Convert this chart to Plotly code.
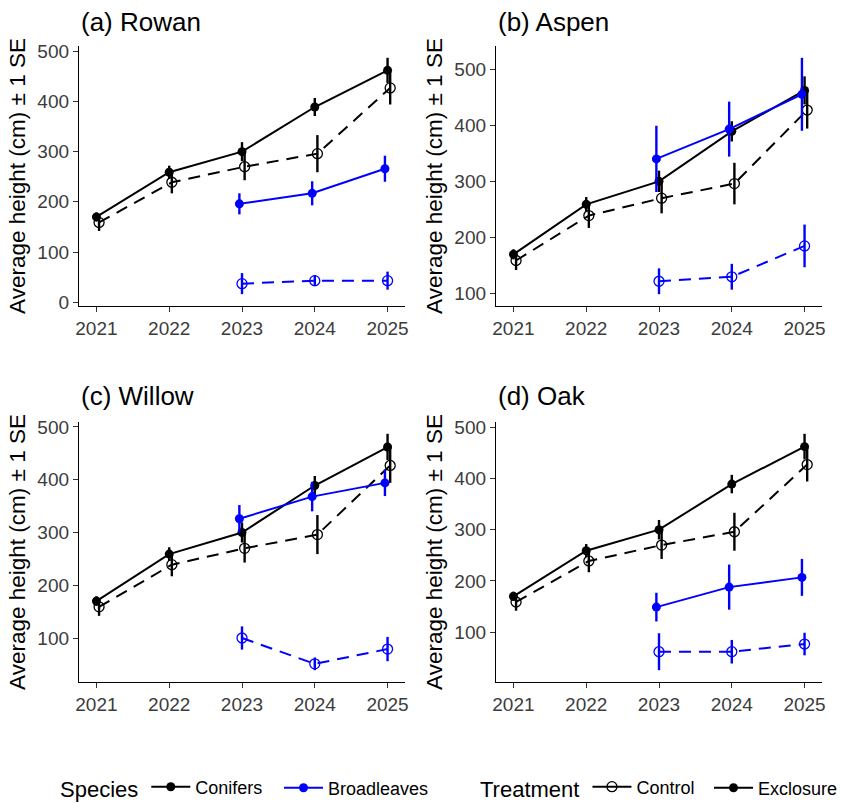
import plotly.graph_objects as go

# ---------------- data ----------------
years = [2021, 2022, 2023, 2024, 2025]
bl_years = [2023, 2024, 2025]

conifer_excl = [170, 259, 300, 389, 462]
conifer_excl_se = [9, 13, 19, 18, 25]
conifer_ctrl = [159, 239, 270, 296, 427]
conifer_ctrl_se = [17, 22, 27, 37, 33]

panel_titles = ["(a) Rowan", "(b) Aspen", "(c) Willow", "(d) Oak"]

rowan_excl = [196, 217, 266]
rowan_excl_se = [21, 24, 26]
rowan_ctrl = [37, 43, 43]
rowan_ctrl_se = [21, 11, 18]

aspen_excl = [340, 393, 455]
aspen_excl_se = [59, 49, 65]
aspen_ctrl = [122, 130, 185]
aspen_ctrl_se = [23, 23, 38]

willow_excl = [326, 368, 394]
willow_excl_se = [26, 28, 25]
willow_ctrl = [100, 51, 79]
willow_ctrl_se = [22, 12, 23]

oak_excl = [149, 188, 207]
oak_excl_se = [28, 44, 36]
oak_ctrl = [62, 62, 77]
oak_ctrl_se = [36, 23, 22]

broadleaf_data = [
    (rowan_excl, rowan_excl_se, rowan_ctrl, rowan_ctrl_se),
    (aspen_excl, aspen_excl_se, aspen_ctrl, aspen_ctrl_se),
    (willow_excl, willow_excl_se, willow_ctrl, willow_ctrl_se),
    (oak_excl, oak_excl_se, oak_ctrl, oak_ctrl_se),
]

# ---------------- style ----------------
FONT = "Liberation Sans, Arial, sans-serif"
BLACK = "#000000"
BLUE = "#0000FF"
DODGE = 0.036
W, H = 843, 803

xdomains = [[79 / W, 405 / W], [496 / W, 822 / W], [79 / W, 405 / W], [496 / W, 822 / W]]
ydomains = [[1 - 306 / H, 1 - 46 / H], [1 - 306 / H, 1 - 46 / H],
            [1 - 682 / H, 1 - 422 / H], [1 - 682 / H, 1 - 422 / H]]
title_y = [1 - 22 / H, 1 - 22 / H, 1 - 396 / H, 1 - 396 / H]

fig = go.Figure()


def marker_style(color, filled):
    if filled:
        return dict(size=9, color=color, symbol="circle", line=dict(width=0))
    return dict(size=10, color=color, symbol="circle-open", line=dict(color=color, width=1.3))


def add_series(i, xs, ys, se, color, filled, dash, off):
    ax = "" if i == 0 else str(i + 1)
    fig.add_trace(go.Scatter(
        x=[x + off for x in xs], y=ys,
        mode="lines+markers",
        line=dict(color=color, width=2, dash=dash),
        marker=marker_style(color, filled),
        error_y=dict(type="data", array=se, visible=True, color=color,
                     thickness=2.4, width=0),
        xaxis="x" + ax, yaxis="y" + ax, showlegend=False, hoverinfo="x+y",
    ))


x_lo = years[0] - DODGE - 0.05 * (years[-1] - years[0] + 2 * DODGE)
x_hi = years[-1] + DODGE + 0.05 * (years[-1] - years[0] + 2 * DODGE)

for i in range(4):
    be, bse, bc, bcse = broadleaf_data[i]
    add_series(i, years, conifer_ctrl, conifer_ctrl_se, BLACK, False, "12px,8px", DODGE)
    add_series(i, years, conifer_excl, conifer_excl_se, BLACK, True, "solid", 0.0)
    add_series(i, bl_years, bc, bcse, BLUE, False, "12px,8px", 0.0)
    add_series(i, bl_years, be, bse, BLUE, True, "solid", -DODGE)

    vals = conifer_ctrl + conifer_excl + bc + be
    ses = conifer_ctrl_se + conifer_excl_se + bcse + bse
    lo = min(v - s for v, s in zip(vals, ses))
    hi = max(v + s for v, s in zip(vals, ses))
    pad = 0.05 * (hi - lo)

    ax = "" if i == 0 else str(i + 1)
    fig.layout["xaxis" + ax] = dict(
        domain=xdomains[i], anchor="y" + ax, range=[x_lo, x_hi],
        tickvals=years, ticktext=[str(y) for y in years],
        showline=True, linecolor="black", linewidth=1.3,
        ticks="outside", ticklen=5, tickwidth=1.3, tickcolor="#333333",
        showgrid=False, zeroline=False,
        tickfont=dict(family=FONT, size=19, color="#3C3C3C"),
    )
    fig.layout["yaxis" + ax] = dict(
        domain=ydomains[i], anchor="x" + ax, range=[lo - pad, hi + pad],
        dtick=100, tick0=0,
        showline=True, linecolor="black", linewidth=1.3,
        ticks="outside", ticklen=5, tickwidth=1.3, tickcolor="#333333",
        showgrid=False, zeroline=False,
        tickfont=dict(family=FONT, size=19, color="#3C3C3C"),
        title=dict(text="Average height (cm) \u00b1 1 SE", standoff=5,
                   font=dict(family=FONT, size=22.5, color="black")),
    )
    fig.add_annotation(
        text=panel_titles[i], xref="paper", yref="paper",
        x=xdomains[i][0], y=title_y[i], xanchor="left", yanchor="middle",
        showarrow=False, font=dict(family=FONT, size=26, color="black"),
    )

# ---------------- legends (one legend box per entry for exact spacing) ----------------
legend_entries = [
    ("Conifers", BLACK, True, "legend"),
    ("Broadleaves", BLUE, True, "legend3"),
    ("Control", BLACK, False, "legend2"),
    ("Exclosure", BLACK, True, "legend4"),
]
for name, color, filled, leg in legend_entries:
    fig.add_trace(go.Scatter(x=[None], y=[None], mode="lines+markers", name=name,
                             line=dict(color=color, width=2),
                             marker=marker_style(color, filled), legend=leg))


def leg(x_px, title=None):
    d = dict(orientation="h", xref="paper", yref="paper",
             x=x_px / W, y=1 - 788 / H, yanchor="middle", xanchor="left",
             bgcolor="rgba(0,0,0,0)", borderwidth=0,
             font=dict(family=FONT, size=18, color="black"),
             itemwidth=39, tracegroupgap=0)
    if title:
        d["title"] = dict(text=title, side="left",
                          font=dict(family=FONT, size=22, color="black"))
    return d


fig.update_layout(
    width=W, height=H,
    margin=dict(l=0, r=0, t=0, b=0, autoexpand=False),
    paper_bgcolor="white", plot_bgcolor="white",
    font=dict(family=FONT, color="black"),
    legend=leg(58, "Species"),
    legend3=leg(279),
    legend2=leg(478, "Treatment"),
    legend4=leg(709),
)

fig.write_html("out.html")
